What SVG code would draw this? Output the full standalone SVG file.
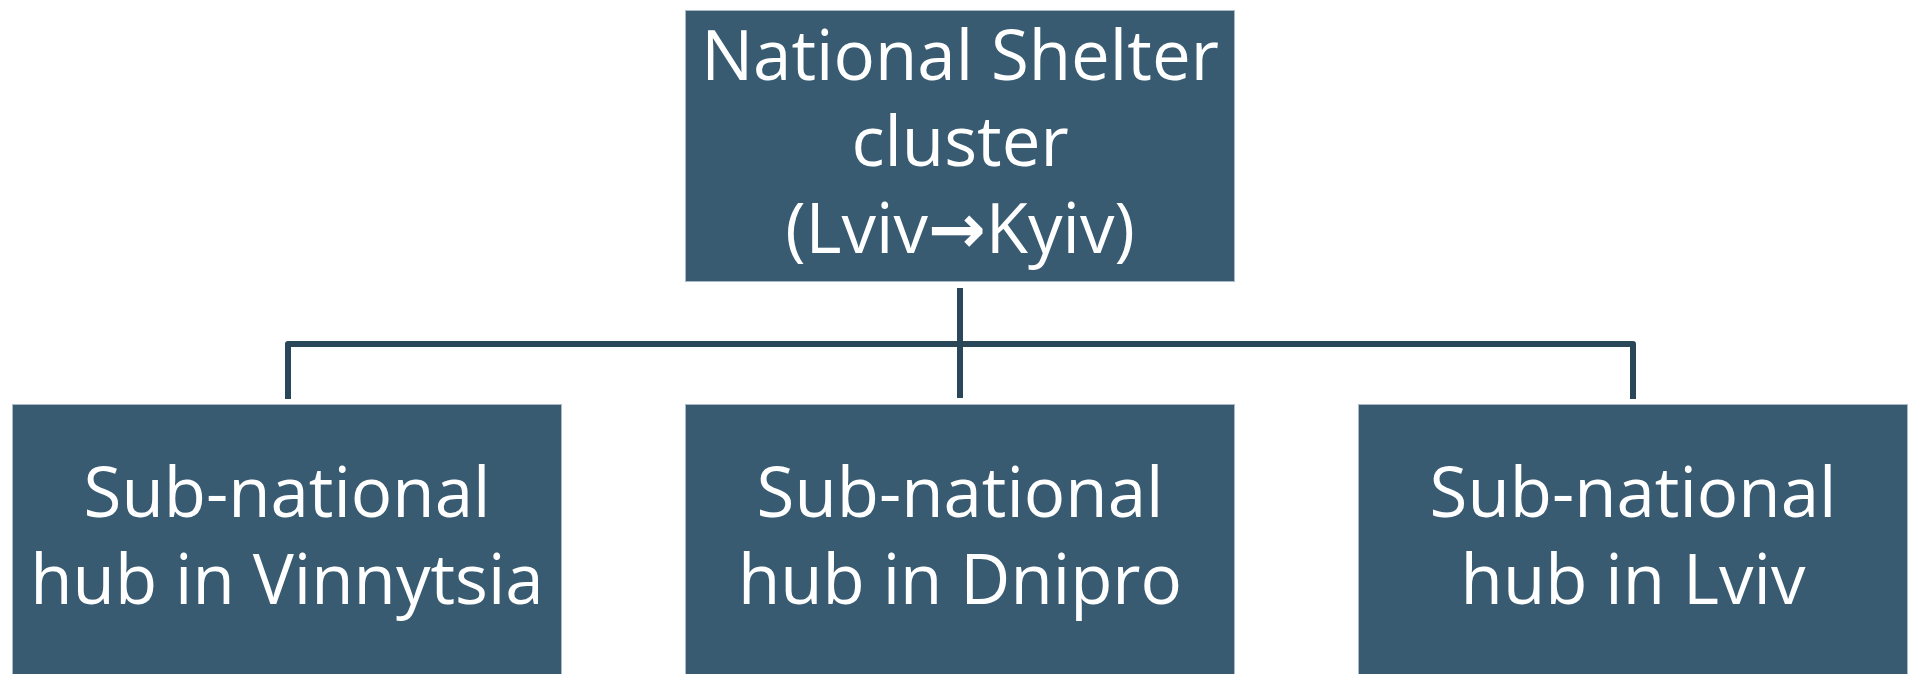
<svg xmlns="http://www.w3.org/2000/svg" width="1913" height="674" viewBox="0 0 1913 674">
  <style>
    .box { fill: #385B72; stroke: #A9BAC5; stroke-width: 1; }
    .lbl { font-family: "Open Sans", "DejaVu Sans", sans-serif; font-size: 69px; fill: #FFFFFF; text-anchor: middle; }
    .arrow { font-family: "DejaVu Sans", sans-serif; font-size: 69px; font-weight: bold; }
    .conn { fill: none; stroke: #2A4659; stroke-width: 6; stroke-linejoin: round; }
  </style>
  <rect width="1913" height="674" fill="#FFFFFF"/>
  <g id="connectors">
    <line class="conn" x1="960" y1="288" x2="960" y2="398" stroke-linecap="butt"/>
    <path class="conn" d="M288,399 V344 H1633 V399"/>
  </g>
  <g id="national">
    <rect class="box" x="685.5" y="10.5" width="549" height="271"/>
    <text class="lbl" x="960" y="80">National Shelter</text>
    <text class="lbl" x="960" y="166">cluster</text>
    <text class="lbl" x="960" y="253">(Lviv<tspan class="arrow">→</tspan>Kyiv)</text>
  </g>
  <g id="vinnytsia">
    <rect class="box" x="12.5" y="404.5" width="549" height="272"/>
    <text class="lbl" x="287" y="517">Sub-national</text>
    <text class="lbl" x="287" y="604">hub in Vinnytsia</text>
  </g>
  <g id="dnipro">
    <rect class="box" x="685.5" y="404.5" width="549" height="272"/>
    <text class="lbl" x="960" y="517">Sub-national</text>
    <text class="lbl" x="960" y="604">hub in Dnipro</text>
  </g>
  <g id="lviv">
    <rect class="box" x="1358.5" y="404.5" width="549" height="272"/>
    <text class="lbl" x="1633" y="517">Sub-national</text>
    <text class="lbl" x="1633" y="604">hub in Lviv</text>
  </g>
</svg>
